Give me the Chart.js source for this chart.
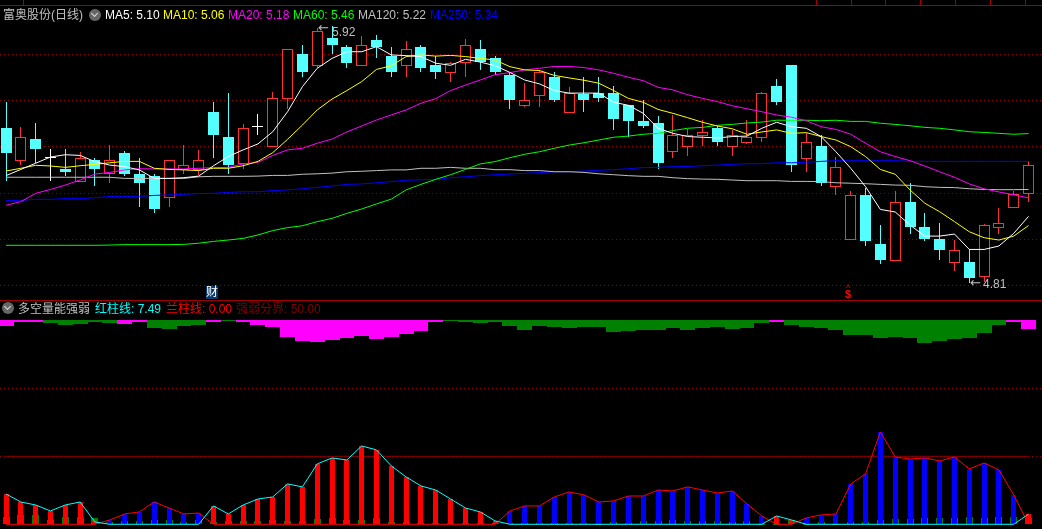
<!DOCTYPE html>
<html lang="zh">
<head>
<meta charset="utf-8">
<title>富奥股份(日线)</title>
<script src="https://cdn.jsdelivr.net/npm/chart.js@4/dist/chart.umd.min.js"></script>
<style>
html, body { margin: 0; padding: 0; background: #000; overflow: hidden; }
#wrap { position: relative; width: 1042px; height: 529px; background: #000; overflow: hidden; }
#wrap canvas { position: absolute; left: 0; top: 0; }
.t { position: absolute; white-space: nowrap; font: 12px/14px "Liberation Sans", "Noto Sans CJK SC", sans-serif; color: #c0c0c0; }
.arrow { font-family: "DejaVu Sans"; font-size: 13px; }
.sep { position: absolute; background: #a00000; }
.icon { position: absolute; width: 12px; height: 12px; border-radius: 50%; background: #666; }
.icon::after { content: ""; position: absolute; left: 3px; top: 2px; width: 4px; height: 4px; border-right: 1.5px solid #ddd; border-bottom: 1.5px solid #ddd; transform: rotate(45deg); }
</style>
</head>
<body>
<div id="wrap">
  <canvas id="kline" width="1042" height="529"></canvas>
  <div class="sep" style="left:0;top:5px;width:1042px;height:1px"></div>
  <div class="sep" style="left:0;top:300px;width:1042px;height:1px"></div>
  <div class="sep" style="left:23px;top:0;width:1px;height:5px"></div>
  <div class="sep" style="left:816px;top:0;width:1px;height:5px"></div>
  <div class="sep" style="left:851px;top:0;width:1px;height:5px"></div>
  <div class="sep" style="left:885px;top:0;width:1px;height:5px"></div>
  <div class="sep" style="left:920px;top:0;width:1px;height:5px"></div>
  <div class="sep" style="left:955px;top:0;width:1px;height:5px"></div>
  <div class="sep" style="left:990px;top:0;width:1px;height:5px"></div>
  <div class="sep" style="left:1025px;top:0;width:1px;height:5px"></div>

  <span class="t" style="left:3px;top:8px">富奥股份(日线)</span>
  <div class="icon" style="left:89px;top:9px"></div>
  <span class="t" style="left:105px;top:8px;color:#fff">MA5: 5.10</span>
  <span class="t" style="left:163px;top:8px;color:#ff0">MA10: 5.06</span>
  <span class="t" style="left:228px;top:8px;color:#f0f">MA20: 5.18</span>
  <span class="t" style="left:293px;top:8px;color:#0f0">MA60: 5.46</span>
  <span class="t" style="left:358px;top:8px">MA120: 5.22</span>
  <span class="t" style="left:430px;top:8px;color:#00f">MA250: 5.34</span>

  <span class="t arrow" style="left:318px;top:21px">←</span>
  <span class="t" style="left:332px;top:25px">5.92</span>
  <span class="t arrow" style="left:970px;top:276px">←</span>
  <span class="t" style="left:983px;top:277px">4.81</span>

  <span class="t" style="left:206px;top:286px;width:12px;height:13px;line-height:13px;background:#0a3a6a;color:#fff">财</span>
  <span class="t" style="left:846px;top:284px;color:#f00;font-size:9px;line-height:9px">^</span>
  <span class="t" style="left:845px;top:289px;color:#f00;font-weight:bold;font-size:11px;line-height:11px">$</span>

  <div class="icon" style="left:2px;top:302px"></div>
  <span class="t" style="left:18px;top:302px">多空量能强弱</span>
  <span class="t" style="left:95px;top:302px;color:#0ff">红柱线: 7.49</span>
  <span class="t" style="left:166px;top:302px;color:#f00">兰柱线: 0.00</span>
  <span class="t" style="left:236px;top:302px;color:#800000">强弱分界: 50.00</span>
</div>

<script>
// ========== DATOS K ==========
const openPrice = [
    5.484,5.342,5.436,5.356,5.306,5.251,5.345,5.283,5.375,5.284,
    5.275,5.181,5.302,5.302,5.554,5.445,5.329,5.491,5.403,5.612,
    5.806,5.755,5.876,5.837,5.755,5.867,5.797,5.755,5.837,5.758,
    5.725,5.766,5.828,5.789,5.715,5.581,5.625,5.706,5.551,5.632,
    5.636,5.636,5.584,5.515,5.506,5.381,5.403,5.451,5.484,5.403,
    5.419,5.442,5.667,5.758,5.351,5.406,5.229,4.998,5.193,4.980,
    4.907,5.162,5.054,5.001,4.898,4.901,4.838,5.051,5.138,5.199,
];
const closePrice = [
    5.375,5.444,5.393,5.360,5.293,5.352,5.306,5.344,5.284,5.245,
    5.132,5.344,5.322,5.344,5.454,5.323,5.483,5.495,5.613,5.826,
    5.728,5.905,5.845,5.767,5.844,5.837,5.728,5.826,5.745,5.728,
    5.766,5.844,5.771,5.728,5.606,5.605,5.728,5.606,5.635,5.606,
    5.615,5.523,5.515,5.493,5.332,5.452,5.452,5.465,5.423,5.452,
    5.444,5.635,5.597,5.323,5.422,5.245,5.313,5.191,4.993,4.910,
    5.161,5.054,5.001,4.954,4.952,4.832,5.061,5.070,5.199,5.322,
];
const highPrice = [
    5.597,5.489,5.506,5.393,5.393,5.380,5.354,5.410,5.384,5.354,
    5.284,5.344,5.410,5.389,5.597,5.636,5.502,5.545,5.641,5.826,
    5.845,5.920,5.928,5.845,5.884,5.889,5.837,5.863,5.845,5.797,
    5.771,5.871,5.867,5.797,5.723,5.680,5.737,5.728,5.663,5.706,
    5.706,5.667,5.584,5.606,5.536,5.541,5.480,5.519,5.493,5.476,
    5.519,5.641,5.697,5.758,5.462,5.454,5.358,5.210,5.223,5.062,
    5.210,5.245,5.114,5.071,4.997,4.958,5.067,5.136,5.210,5.341,
];
const lowPrice = [
    5.254,5.323,5.332,5.254,5.275,5.251,5.232,5.245,5.275,5.141,
    5.114,5.141,5.284,5.280,5.354,5.284,5.306,5.454,5.403,5.567,
    5.706,5.745,5.806,5.745,5.755,5.789,5.706,5.706,5.728,5.697,
    5.684,5.706,5.737,5.715,5.567,5.576,5.576,5.597,5.551,5.554,
    5.597,5.476,5.445,5.484,5.306,5.354,5.362,5.406,5.406,5.362,
    5.415,5.423,5.584,5.293,5.293,5.232,5.193,4.998,4.971,4.893,
    4.907,5.023,4.993,4.910,4.862,4.810,4.815,5.023,5.138,5.162,
];

// ========== MEDIAS ==========
const ma5 = [
    5.277,5.304,5.331,5.358,5.368,5.365,5.338,5.323,5.316,5.302,
    5.265,5.265,5.268,5.275,5.320,5.360,5.389,5.415,5.468,5.555,
    5.664,5.744,5.787,5.816,5.816,5.838,5.802,5.799,5.795,5.766,
    5.757,5.783,5.771,5.755,5.726,5.693,5.676,5.647,5.636,5.636,
    5.636,5.596,5.583,5.548,5.483,5.461,5.447,5.444,5.441,5.447,
    5.449,5.483,5.509,5.490,5.483,5.447,5.381,5.309,5.229,5.130,
    5.119,5.062,5.014,5.014,5.023,4.956,4.956,4.971,5.026,5.100,
];
const ma10 = [
    5.297,5.309,5.322,5.319,5.313,5.320,5.326,5.333,5.339,5.339,
    5.309,5.304,5.302,5.299,5.309,5.309,5.320,5.339,5.377,5.435,
    5.497,5.563,5.610,5.647,5.686,5.739,5.755,5.795,5.802,5.797,
    5.800,5.795,5.787,5.780,5.751,5.737,5.734,5.713,5.702,5.692,
    5.679,5.647,5.613,5.596,5.565,5.548,5.529,5.509,5.493,5.481,
    5.457,5.467,5.476,5.461,5.464,5.447,5.432,5.403,5.360,5.304,
    5.283,5.215,5.157,5.120,5.077,5.033,5.007,4.997,5.014,5.060,
];
const ma20 = [
    5.148,5.164,5.200,5.217,5.236,5.258,5.284,5.291,5.302,5.307,
    5.306,5.306,5.306,5.309,5.312,5.313,5.328,5.335,5.365,5.389,
    5.396,5.418,5.436,5.467,5.493,5.519,5.541,5.563,5.592,5.612,
    5.647,5.671,5.693,5.716,5.725,5.737,5.744,5.752,5.752,5.747,
    5.737,5.722,5.705,5.690,5.661,5.650,5.629,5.613,5.599,5.581,
    5.568,5.555,5.541,5.531,5.516,5.490,5.478,5.457,5.418,5.381,
    5.360,5.342,5.319,5.294,5.270,5.241,5.220,5.206,5.194,5.180,
];
const ma60 = [
    4.974,4.974,4.974,4.974,4.974,4.974,4.974,4.975,4.977,4.977,
    4.977,4.977,4.978,4.983,4.991,4.997,5.004,5.019,5.038,5.051,
    5.059,5.077,5.091,5.113,5.132,5.154,5.175,5.215,5.239,5.261,
    5.281,5.304,5.328,5.338,5.355,5.370,5.381,5.396,5.410,5.420,
    5.432,5.444,5.449,5.457,5.461,5.473,5.483,5.487,5.496,5.500,
    5.506,5.510,5.518,5.518,5.518,5.516,5.518,5.513,5.513,5.505,
    5.500,5.494,5.487,5.483,5.476,5.468,5.465,5.461,5.457,5.460,
];
const ma120 = [
    5.270,5.270,5.270,5.270,5.270,5.270,5.270,5.270,5.265,5.265,
    5.265,5.265,5.265,5.272,5.274,5.274,5.274,5.275,5.278,5.278,
    5.283,5.285,5.288,5.294,5.296,5.299,5.302,5.302,5.309,5.309,
    5.313,5.309,5.309,5.303,5.303,5.299,5.299,5.294,5.294,5.291,
    5.285,5.281,5.277,5.274,5.274,5.268,5.264,5.262,5.261,5.258,
    5.255,5.255,5.255,5.252,5.252,5.251,5.246,5.244,5.242,5.239,
    5.236,5.235,5.229,5.226,5.225,5.220,5.217,5.216,5.216,5.217,
];
const ma250 = [
    5.168,5.170,5.174,5.174,5.177,5.177,5.181,5.186,5.186,5.187,
    5.191,5.193,5.196,5.199,5.200,5.204,5.207,5.207,5.212,5.215,
    5.220,5.226,5.232,5.239,5.241,5.246,5.251,5.257,5.259,5.261,
    5.268,5.272,5.277,5.281,5.284,5.287,5.290,5.294,5.294,5.297,
    5.300,5.303,5.307,5.312,5.313,5.316,5.317,5.320,5.323,5.326,
    5.329,5.329,5.333,5.333,5.335,5.339,5.342,5.342,5.342,5.342,
    5.342,5.339,5.339,5.339,5.339,5.339,5.339,5.339,5.339,5.339,
];

// ========== INDICADOR 多空量能强弱 ==========
const redBars = [
    22.3,16.4,14.2,9.8,14.2,16.4,1.7,0,0,0,
    0,0,0,0,13.5,7.6,14.2,18.6,20.1,29.7,
    27.5,44.4,48.8,47.3,57.6,54.7,42.9,34.8,28.2,25.2,
    18.6,12,9.1,2.5,0,0,0,0,0,0,
    0,0,0,0,0,0,0,0,0,0,
    0,0,6.1,3.2,0,0,0,0,0,0,
    0,0,0,0,0,0,0,0,0,7.49,
];
const blueBars = [
    0,0,0,0,0,0,0,3.2,7.6,9.1,
    16.4,12,7.6,8.3,0,0,0,0,0,0,
    0,0,0,0,0,0,0,0,0,0,
    0,0,0,0,9.8,13.5,13.5,20.1,23.8,21.6,
    16.4,17.2,20.8,20.8,25.2,24.5,27.5,25.2,23,24.5,
    15,6.1,0,0,4.7,6.9,7.6,29.7,37,67.9,
    49.5,48,48.8,46.6,49.5,40.7,45.1,40,21.6,0,
];
const greenBase = [
    5.4,6.9,6.9,3.2,5.4,5.4,4.7,1.7,2.5,2.5,
    3.2,3.2,1.7,3.2,1.7,2.5,2.5,2.5,3.2,2.5,
    2.5,3.9,4.7,3.2,3.2,4.7,1.7,1.7,1,1,
    1,1,1,1,1,1,1,1,1,1,
    0.5,1.7,1,2.5,2.5,3.2,2.5,2.5,2.5,1.7,
    2.5,0.5,0.5,3.2,0.5,1.7,0.5,1.7,1.7,3.2,
    3.9,3.9,4.7,4.7,4.7,5.4,4.7,5.4,5.4,4.7,
];
// banda superior, cuelga desde 150
const bandDepth = [
    4.4,1.5,1.5,2.2,3.7,2.9,1.5,2.2,2.9,1.5,
    5.9,6.6,4.4,3.7,1.5,0.7,1.5,3.7,5.1,12.5,
    15.4,16.2,14.7,13.2,11.8,14,12.5,10.3,8.1,1.5,
    0.7,1.5,2.2,1.5,4.4,7.4,4.4,5.1,5.9,5.1,
    5.1,8.8,8.1,7.4,7.4,5.9,7.4,5.9,5.1,6.6,
    5.9,2.2,1.5,3.7,5.1,5.9,7.4,11,11,13.2,
    12.5,13.2,16.9,15.4,14,13.2,9.6,3.7,1.5,6.6,
];
const bandPink = [0,1,2,8,9,14,16,17,18,19,20,21,22,23,24,25,26,27,28,29,52,68,69];
const bandTop = 150;
const limitLevel = 50;

const priceTicks = [4.8, 5.0, 5.2, 5.405, 5.605, 5.805];
const indicatorTicks = [50, 100];

// ========== COLORES ==========
const RED = "#ff3232";
const CYAN = "#54ffff";
const GRID = "#8b0000";

const upColor = closePrice.map((c, i) => {
    if (Math.abs(c - openPrice[i]) < 0.005) return "#ffffff";
    return c > openPrice[i] ? RED : CYAN;
});
const bodyFill = upColor.map((c) => (c === CYAN ? CYAN : "#000000"));
const xy = (arr) => arr.map((v, i) => ({ x: i, y: v }));

function maLine(label, data, color, order) {
    return {
        type: "line", label, data: xy(data), yAxisID: "price",
        borderColor: color, borderWidth: 1, pointRadius: 0, tension: 0, order,
    };
}

function subLine(label, data, color, order) {
    return {
        type: "line", label, data: xy(data), yAxisID: "sub",
        borderColor: color, borderWidth: 1, pointRadius: 0, tension: 0, order,
    };
}

function barSet(label, data, color, thickness, axis, order) {
    return {
        type: "bar", label, data, yAxisID: axis, grouped: false,
        backgroundColor: color, barThickness: thickness,
        borderWidth: 0, inflateAmount: 0, order,
    };
}

const wicks = lowPrice.map((l, i) => ({ x: i, y: [l, highPrice[i]] }));
const bodies = openPrice.map((o, i) => ({ x: i, y: [o, closePrice[i]] }));
const band = bandDepth.map((d, i) => ({ x: i, y: [bandTop - d, bandTop] }));
const bandColor = bandDepth.map((d, i) => (bandPink.includes(i) ? "#ff00ff" : "#008000"));

// las barras caen sobre pixel entero, como en el terminal
const pixelSnap = {
    id: "pixelSnap",
    afterDatasetsUpdate(chart) {
        chart.getSortedVisibleDatasetMetas().forEach((meta) => {
            if (meta.type !== "bar") return;
            meta.data.forEach((bar) => {
                const tall = Math.abs(bar.y - bar.base) > 0.4;
                bar.x = Math.round(bar.x - 0.5) + 0.5;
                bar.y = Math.round(bar.y);
                bar.base = Math.round(bar.base);
                if (tall && bar.y === bar.base) bar.base += 1;
            });
        });
    },
};

new Chart(document.getElementById("kline"), {
    type: "bar",
    plugins: [pixelSnap],
    data: {
        datasets: [
            maLine("MA5", ma5, "#ffffff", 1),
            maLine("MA10", ma10, "#ffff00", 2),
            maLine("MA20", ma20, "#ff00ff", 3),
            maLine("MA60", ma60, "#00ff00", 4),
            maLine("MA120", ma120, "#c0c0c0", 5),
            maLine("MA250", ma250, "#0000ff", 6),
            {
                ...barSet("body", bodies, bodyFill, 11, "price", 9),
                borderColor: upColor, borderWidth: 1, borderSkipped: false,
            },
            barSet("wick", wicks, upColor, 1, "price", 10),
            subLine("红柱线", redBars, "#00ffff", 11),
            subLine("兰柱线", blueBars, "#ff0000", 12),
            barSet("red", xy(redBars), "#ff0000", 5, "sub", 13),
            barSet("blue", xy(blueBars), "#0000ff", 5, "sub", 14),
            barSet("base", xy(greenBase), "#008000", 7, "sub", 15),
            subLine("强弱分界", Array(70).fill(limitLevel), "#900000", 16),
            barSet("band", band, bandColor, 15, "sub", 17),
        ],
    },
    options: {
        responsive: false,
        animation: false,
        events: [],
        layout: { padding: 0 },
        plugins: { legend: { display: false }, tooltip: { enabled: false } },
        scales: {
            x: { type: "linear", display: false, offset: false, min: -0.405, max: 69.906 },
            price: {
                type: "linear", position: "left", min: 3.74, max: 6.041,
                afterBuildTicks: (s) => { s.ticks = priceTicks.map((v) => ({ value: v })); },
                afterFit: (s) => { s.width = 0; },
                ticks: { display: false },
                border: { display: false, dash: [1, 3] },
                grid: { color: GRID, drawTicks: false },
            },
            sub: {
                type: "linear", position: "left", min: -3.46, max: 385.5,
                afterBuildTicks: (s) => { s.ticks = indicatorTicks.map((v) => ({ value: v })); },
                afterFit: (s) => { s.width = 0; },
                ticks: { display: false },
                border: { display: false, dash: [1, 3] },
                grid: { color: GRID, drawTicks: false },
            },
        },
    },
});
</script>
</body>
</html>
